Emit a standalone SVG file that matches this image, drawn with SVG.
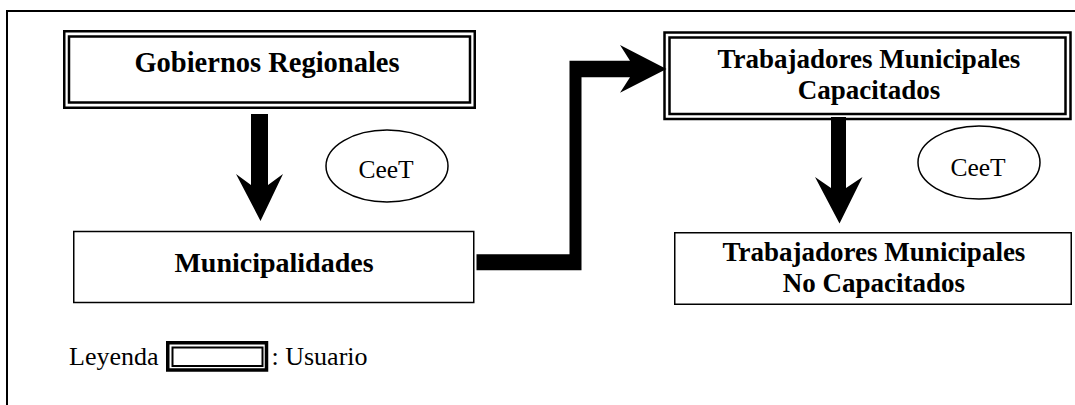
<svg xmlns="http://www.w3.org/2000/svg" width="1075" height="405" viewBox="0 0 1075 405">
<style>
  .frame { fill: none; stroke: #000; stroke-width: 2; }
  .outer { fill: #fff; stroke: #000; stroke-width: 2.5; }
  .inner { fill: none; stroke: #000; stroke-width: 2.5; }
  .plain { fill: #fff; stroke: #000; stroke-width: 1.5; }
  .oval { fill: #fff; stroke: #000; stroke-width: 1.5; }
  .lbl { font-family: "Liberation Serif", "Times New Roman", serif; font-weight: bold; fill: #000; text-anchor: middle; }
  .reg { font-family: "Liberation Serif", "Times New Roman", serif; fill: #000; }
  .arrow { fill: #000; stroke: none; }
</style>
<rect x="0" y="0" width="1075" height="405" fill="#fff"/>
<g id="frame">
  <polyline class="frame" points="7,405 7,11 1075,11"/>
</g>
<g id="gobiernos-regionales">
  <rect class="outer" x="64.25" y="31.25" width="410.5" height="76.5"/>
  <rect class="inner" x="69" y="36.5" width="401" height="66"/>
  <text class="lbl" x="267" y="72" font-size="28.5">Gobiernos Regionales</text>
</g>
<g id="municipalidades">
  <rect class="plain" x="73.75" y="231.5" width="400" height="71"/>
  <text class="lbl" x="274" y="272" font-size="28">Municipalidades</text>
</g>
<g id="trabajadores-capacitados">
  <rect class="outer" x="664.5" y="32.5" width="406" height="86.5"/>
  <rect class="inner" x="669.5" y="37.5" width="396" height="76.5"/>
  <text class="lbl" x="869" y="68" font-size="27">Trabajadores Municipales</text>
  <text class="lbl" x="869" y="98.5" font-size="27">Capacitados</text>
</g>
<g id="trabajadores-no-capacitados">
  <rect class="plain" x="674.75" y="232.75" width="396.5" height="71.5"/>
  <text class="lbl" x="874" y="261" font-size="27">Trabajadores Municipales</text>
  <text class="lbl" x="874" y="291.5" font-size="27">No Capacitados</text>
</g>
<g id="ceet-1">
  <ellipse class="oval" cx="387" cy="166" rx="61" ry="36"/>
  <text class="reg" x="386" y="178" font-size="25.5" text-anchor="middle">CeeT</text>
</g>
<g id="ceet-2">
  <ellipse class="oval" cx="979" cy="162.5" rx="61" ry="36.5"/>
  <text class="reg" x="978" y="175.5" font-size="25.5" text-anchor="middle">CeeT</text>
</g>
<g id="connectors">
  <polygon class="arrow" points="251,114 268,114 268,185 283,174 260.5,221 236,174 251,185"/>
  <polygon class="arrow" points="831,117 846,117 846,188 862.5,177 839.5,223.5 815,177 831,188"/>
  <polygon class="arrow" points="476.5,254.3 569.5,254.3 569.5,60.7 630,60.7 620,45 666.5,69 620,92.7 630,77.3 581.5,77.3 581.5,270.3 476.5,270.3"/>
</g>
<g id="legend">
  <text class="reg" x="69" y="365" font-size="26">Leyenda</text>
  <rect fill="#fff" stroke="#000" stroke-width="3.5" x="167.75" y="342.75" width="98.75" height="27.25"/>
  <rect fill="none" stroke="#000" stroke-width="2" x="172.5" y="347.5" width="90" height="18.5"/>
  <text class="reg" x="271.5" y="365" font-size="26">: Usuario</text>
</g>
</svg>
